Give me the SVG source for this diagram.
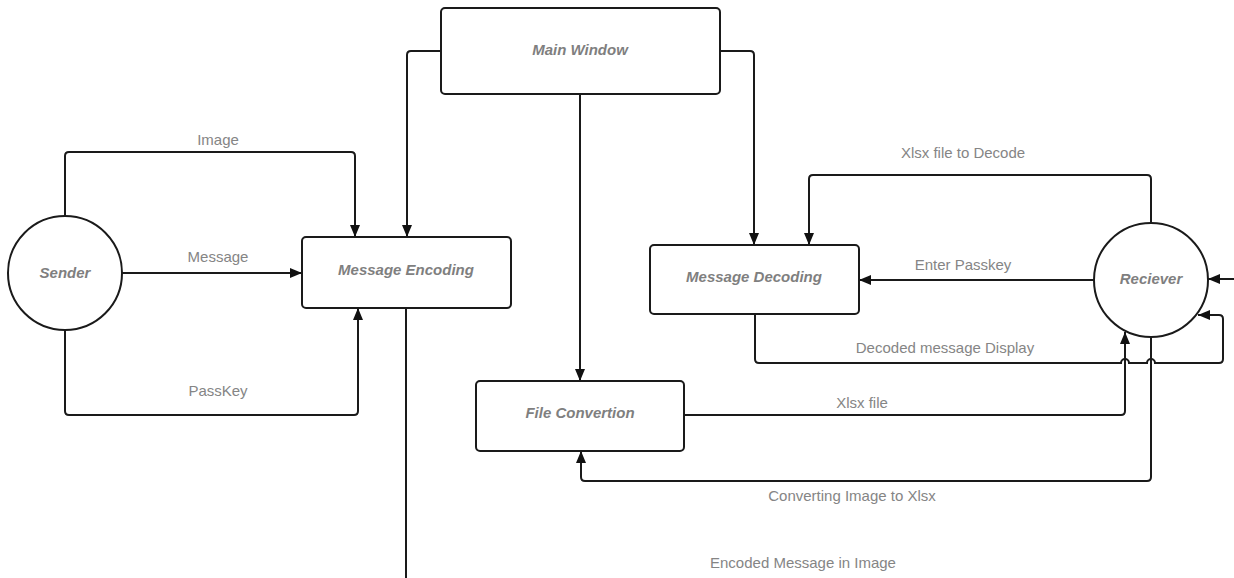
<svg xmlns="http://www.w3.org/2000/svg" width="1234" height="578" viewBox="0 0 1234 578">
<style>
.node{fill:#fff;stroke:#1a1a1a;stroke-width:2}
.nt{font-family:"Liberation Sans",Arial,sans-serif;font-size:15px;font-weight:bold;font-style:italic;fill:#7f7f7f;text-anchor:middle}
.el{font-family:"Liberation Sans",Arial,sans-serif;font-size:15px;fill:#858585;text-anchor:middle}
.c{fill:none;stroke:#1a1a1a;stroke-width:2}
.a{marker-end:url(#arr)}
</style>
<defs>
<marker id="arr" markerUnits="userSpaceOnUse" markerWidth="12" markerHeight="10" refX="12" refY="5" orient="auto">
<path d="M0,0 L12,5 L0,10 z" fill="#111"/>
</marker>
</defs>
<rect width="1234" height="578" fill="#fff"/>
<g id="connectors">
<path class="c a" d="M65,215 V156 Q65,152 69,152 H351 Q355,152 355,156 V237"/>
<path class="c a" d="M122,273 H302"/>
<path class="c a" d="M65,331 V411 Q65,415 69,415 H354 Q358,415 358,411 V308"/>
<path class="c a" d="M441,51 H411 Q407,51 407,55 V237"/>
<path class="c a" d="M720,51 H750 Q754,51 754,55 V245"/>
<path class="c a" d="M580,94 V381"/>
<path class="c" d="M406,308 V578"/>
<path class="c a" d="M1151,223 V179 Q1151,175 1147,175 H813 Q809,175 809,179 V245"/>
<path class="c a" d="M1094,280 H859"/>
<path class="c a" d="M755,314 V359 Q755,363 759,363 H1121 a4,4 0 0 1 8,0 H1147 a4,4 0 0 1 8,0 H1219 Q1223,363 1223,359 V319 Q1223,315 1219,315 H1198"/>
<path class="c a" d="M684,415 H1121 Q1125,415 1125,411 V332"/>
<path class="c a" d="M1151,337 V477 Q1151,481 1147,481 H585 Q581,481 581,477 V451"/>
<path class="c a" d="M1236,279 H1208"/>
<text class="el" x="218" y="145">Image</text>
<text class="el" x="218" y="262">Message</text>
<text class="el" x="218" y="396">PassKey</text>
<text class="el" x="963" y="158">Xlsx file to Decode</text>
<text class="el" x="963" y="270">Enter Passkey</text>
<text class="el" x="945" y="353">Decoded message Display</text>
<text class="el" x="862" y="408">Xlsx file</text>
<text class="el" x="852" y="501">Converting Image to Xlsx</text>
<text class="el" x="803" y="568">Encoded Message in Image</text>
</g>
<g id="main-window">
<rect class="node" x="441" y="8" width="279" height="86" rx="4"/>
<text class="nt" x="580" y="55">Main Window</text>
</g>
<g id="sender">
<circle class="node" cx="65" cy="273" r="57"/>
<text class="nt" x="65" y="278">Sender</text>
</g>
<g id="message-encoding">
<rect class="node" x="302" y="237" width="209" height="71" rx="4"/>
<text class="nt" x="406" y="275">Message Encoding</text>
</g>
<g id="message-decoding">
<rect class="node" x="650" y="245" width="209" height="69" rx="4"/>
<text class="nt" x="754" y="282">Message Decoding</text>
</g>
<g id="file-convertion">
<rect class="node" x="476" y="381" width="208" height="70" rx="4"/>
<text class="nt" x="580" y="418">File Convertion</text>
</g>
<g id="reciever">
<circle class="node" cx="1151" cy="280" r="57"/>
<text class="nt" x="1151" y="284">Reciever</text>
</g>
</svg>
